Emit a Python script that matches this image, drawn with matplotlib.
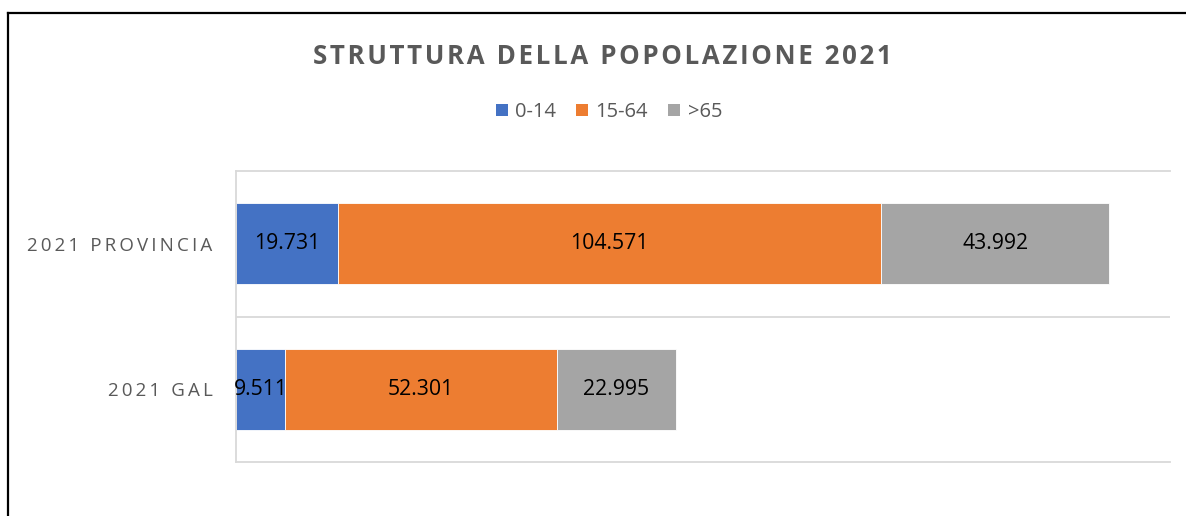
import matplotlib
matplotlib.use("Agg")
import matplotlib.pyplot as plt
from matplotlib.lines import Line2D
from matplotlib.patches import Patch

# ---- data ----
categories = ["2021 GAL", "2021 PROVINCIA"]
series_names = ["0-14", "15-64", ">65"]
values_0_14 = [9511, 19731]
values_15_64 = [52301, 104571]
values_65 = [22995, 43992]
title_text = "STRUTTURA DELLA POPOLAZIONE 2021"

colors = ["#4472C4", "#ED7D31", "#A5A5A5"]
GRAY_TXT = "#595959"
FAM = ["Open Sans", "DejaVu Sans"]

HAIR = "\u200a"
THIN = "\u2009"


def spaced(s, sep):
    return sep.join(list(s))


W, H = 1186, 516
fig = plt.figure(figsize=(W / 100, H / 100), dpi=100)
fig.patch.set_facecolor("white")

ax = fig.add_axes([236 / W, (H - 462) / H, (1170 - 236) / W, (462 - 171) / H])

ypos = list(range(len(categories)))
series = [values_0_14, values_15_64, values_65]
left = [0] * len(categories)
for name, vals, col in zip(series_names, series, colors):
    bars = ax.barh(ypos, vals, left=left, height=0.56, color=col,
                   edgecolor="white", linewidth=0.6, label=name)
    ax.bar_label(bars, labels=[f"{v:,}".replace(",", ".") for v in vals],
                 label_type="center", fontsize=15.3, color="#000000",
                 family=FAM)
    left = [l + v for l, v in zip(left, vals)]

ax.set_xlim(0, 180000)
ax.set_ylim(-0.5, len(categories) - 0.5)
ax.set_xticks([])
ax.set_yticks(ypos)
ax.set_yticklabels([spaced(c, THIN) for c in categories], family=FAM,
                   fontsize=13.5, color=GRAY_TXT)
ax.tick_params(axis="y", length=0, pad=17)

for sp in ["top", "bottom", "left"]:
    ax.spines[sp].set_color("#D9D9D9")
    ax.spines[sp].set_linewidth(1.3)
ax.spines["right"].set_visible(False)
for k in range(1, len(categories)):
    ax.axhline(k - 0.5, color="#D9D9D9", lw=1.3, zorder=0)

# title
fig.text(602 / W, (H - 56) / H, spaced(title_text, HAIR), ha="center",
         va="center", fontsize=18.6, fontweight="bold", color=GRAY_TXT,
         family=FAM)

# legend
handles = [Patch(facecolor=c, edgecolor="none") for c in colors]
fig.legend(handles, series_names, loc="center", bbox_to_anchor=(609 / W, (H - 112) / H),
           ncol=3, frameon=False, prop={"family": FAM, "size": 14.5},
           labelcolor=GRAY_TXT, handlelength=0.6, handleheight=0.6,
           handletextpad=0.36, columnspacing=1.0, borderaxespad=0)

# outer border (top and left edges)
fig.add_artist(Line2D([8 / W, 1.0], [(H - 13) / H, (H - 13) / H], color="black",
                      lw=1.6, transform=fig.transFigure))
fig.add_artist(Line2D([8 / W, 8 / W], [0, (H - 13) / H], color="black",
                      lw=1.6, transform=fig.transFigure))

fig.savefig("out.png", dpi=100)
